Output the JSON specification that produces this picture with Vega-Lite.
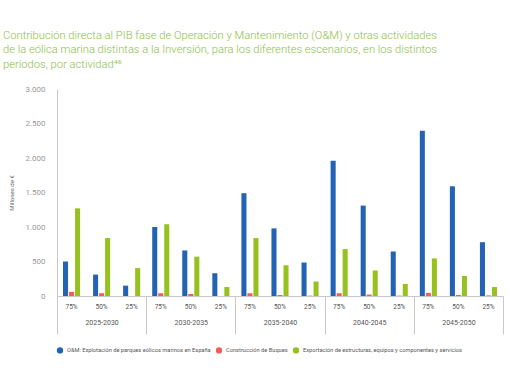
{
  "$schema": "https://vega.github.io/schema/vega-lite/v6.json",
  "width": 446,
  "height": 207,
  "autosize": {"type": "none"},
  "padding": {"left": 57, "top": 89, "right": 7, "bottom": 86},
  "background": "white",
  "title": {
    "text": [
      "Contribución directa al PIB fase de Operación y Mantenimiento (O&M) y otras actividades",
      "de la eólica marina distintas a la Inversión, para los diferentes escenarios, en los distintos",
      "periodos, por actividad⁴⁶"
    ],
    "anchor": "start",
    "frame": "group",
    "dx": -54,
    "offset": 15,
    "fontSize": 11.2,
    "lineHeight": 14.5,
    "font": "Roboto",
    "fontWeight": 300,
    "color": "#8dc03f"
  },
  "data": {
    "values": [
      {"period": "2025-2030", "scenario": "75%", "series": "O&M: Explotación de parques eólicos marinos en España", "value": 500},
      {"period": "2025-2030", "scenario": "75%", "series": "Construcción de Buques", "value": 60},
      {"period": "2025-2030", "scenario": "75%", "series": "Exportación de estructuras, equipos y componentes y servicios", "value": 1270},
      {"period": "2025-2030", "scenario": "50%", "series": "O&M: Explotación de parques eólicos marinos en España", "value": 310},
      {"period": "2025-2030", "scenario": "50%", "series": "Construcción de Buques", "value": 40},
      {"period": "2025-2030", "scenario": "50%", "series": "Exportación de estructuras, equipos y componentes y servicios", "value": 840},
      {"period": "2025-2030", "scenario": "25%", "series": "O&M: Explotación de parques eólicos marinos en España", "value": 150},
      {"period": "2025-2030", "scenario": "25%", "series": "Construcción de Buques", "value": 0},
      {"period": "2025-2030", "scenario": "25%", "series": "Exportación de estructuras, equipos y componentes y servicios", "value": 405},
      {"period": "2030-2035", "scenario": "75%", "series": "O&M: Explotación de parques eólicos marinos en España", "value": 1000},
      {"period": "2030-2035", "scenario": "75%", "series": "Construcción de Buques", "value": 40},
      {"period": "2030-2035", "scenario": "75%", "series": "Exportación de estructuras, equipos y componentes y servicios", "value": 1040},
      {"period": "2030-2035", "scenario": "50%", "series": "O&M: Explotación de parques eólicos marinos en España", "value": 660},
      {"period": "2030-2035", "scenario": "50%", "series": "Construcción de Buques", "value": 30},
      {"period": "2030-2035", "scenario": "50%", "series": "Exportación de estructuras, equipos y componentes y servicios", "value": 570},
      {"period": "2030-2035", "scenario": "25%", "series": "O&M: Explotación de parques eólicos marinos en España", "value": 330},
      {"period": "2030-2035", "scenario": "25%", "series": "Construcción de Buques", "value": 0},
      {"period": "2030-2035", "scenario": "25%", "series": "Exportación de estructuras, equipos y componentes y servicios", "value": 130},
      {"period": "2035-2040", "scenario": "75%", "series": "O&M: Explotación de parques eólicos marinos en España", "value": 1490},
      {"period": "2035-2040", "scenario": "75%", "series": "Construcción de Buques", "value": 40},
      {"period": "2035-2040", "scenario": "75%", "series": "Exportación de estructuras, equipos y componentes y servicios", "value": 840},
      {"period": "2035-2040", "scenario": "50%", "series": "O&M: Explotación de parques eólicos marinos en España", "value": 980},
      {"period": "2035-2040", "scenario": "50%", "series": "Construcción de Buques", "value": 15},
      {"period": "2035-2040", "scenario": "50%", "series": "Exportación de estructuras, equipos y componentes y servicios", "value": 445},
      {"period": "2035-2040", "scenario": "25%", "series": "O&M: Explotación de parques eólicos marinos en España", "value": 485},
      {"period": "2035-2040", "scenario": "25%", "series": "Construcción de Buques", "value": 5},
      {"period": "2035-2040", "scenario": "25%", "series": "Exportación de estructuras, equipos y componentes y servicios", "value": 210},
      {"period": "2040-2045", "scenario": "75%", "series": "O&M: Explotación de parques eólicos marinos en España", "value": 1960},
      {"period": "2040-2045", "scenario": "75%", "series": "Construcción de Buques", "value": 40},
      {"period": "2040-2045", "scenario": "75%", "series": "Exportación de estructuras, equipos y componentes y servicios", "value": 680},
      {"period": "2040-2045", "scenario": "50%", "series": "O&M: Explotación de parques eólicos marinos en España", "value": 1310},
      {"period": "2040-2045", "scenario": "50%", "series": "Construcción de Buques", "value": 20},
      {"period": "2040-2045", "scenario": "50%", "series": "Exportación de estructuras, equipos y componentes y servicios", "value": 370},
      {"period": "2040-2045", "scenario": "25%", "series": "O&M: Explotación de parques eólicos marinos en España", "value": 645},
      {"period": "2040-2045", "scenario": "25%", "series": "Construcción de Buques", "value": 5},
      {"period": "2040-2045", "scenario": "25%", "series": "Exportación de estructuras, equipos y componentes y servicios", "value": 175},
      {"period": "2045-2050", "scenario": "75%", "series": "O&M: Explotación de parques eólicos marinos en España", "value": 2395},
      {"period": "2045-2050", "scenario": "75%", "series": "Construcción de Buques", "value": 45},
      {"period": "2045-2050", "scenario": "75%", "series": "Exportación de estructuras, equipos y componentes y servicios", "value": 545},
      {"period": "2045-2050", "scenario": "50%", "series": "O&M: Explotación de parques eólicos marinos en España", "value": 1590},
      {"period": "2045-2050", "scenario": "50%", "series": "Construcción de Buques", "value": 15},
      {"period": "2045-2050", "scenario": "50%", "series": "Exportación de estructuras, equipos y componentes y servicios", "value": 290},
      {"period": "2045-2050", "scenario": "25%", "series": "O&M: Explotación de parques eólicos marinos en España", "value": 780},
      {"period": "2045-2050", "scenario": "25%", "series": "Construcción de Buques", "value": 8},
      {"period": "2045-2050", "scenario": "25%", "series": "Exportación de estructuras, equipos y componentes y servicios", "value": 130}
    ]
  },
  "transform": [
    {"calculate": "datum.scenario + '-' + (datum.series == 'Construcción de Buques' ? 'b' : (indexof(datum.series, 'O&M') == 0 ? 'a' : 'c'))", "as": "slot"}
  ],
  "encoding": {
    "x": {
      "field": "period",
      "type": "nominal",
      "sort": ["2025-2030", "2030-2035", "2035-2040", "2040-2045", "2045-2050"],
      "scale": {"paddingInner": 0, "paddingOuter": 0},
      "title": null,
      "axis": {
        "labelAngle": 0,
        "tickBand": "extent",
        "tickSize": 38,
        "tickColor": "#c8c8c8",
        "domainColor": "#c8c8c8",
        "labelPadding": -12,
        "labelBaseline": "middle",
        "labelFontSize": 7,
        "labelColor": "#555555",
        "labelFont": "Roboto"
      }
    },
    "xOffset": {
      "field": "slot",
      "type": "nominal",
      "scale": {
        "domain": ["s1", "75%-a", "75%-b", "75%-c", "s2", "s3", "50%-a", "50%-b", "50%-c", "s4", "s5", "25%-a", "25%-b", "25%-c", "s6"],
        "paddingInner": 0.16,
        "paddingOuter": 0
      }
    }
  },
  "resolve": {"axis": {"y": "independent"}},
  "layer": [
    {
      "mark": {"type": "bar"},
      "encoding": {
        "y": {
          "field": "value",
          "type": "quantitative",
          "scale": {"domain": [0, 3000]},
          "title": "Millones de €",
          "axis": {
            "values": [0, 500, 1000, 1500, 2000, 2500, 3000],
            "labelExpr": "replace(format(datum.value, ','), ',', '.')",
            "labelOverlap": false,
            "grid": false,
            "ticks": false,
            "domainColor": "#c8c8c8",
            "labelPadding": 12,
            "labelFontSize": 8,
            "labelColor": "#999999",
            "labelFont": "Roboto",
            "titleFontSize": 6,
            "titleFontWeight": "normal",
            "titleColor": "#666666",
            "titleFont": "Roboto",
            "titlePadding": 10
          }
        },
        "color": {
          "field": "series",
          "type": "nominal",
          "scale": {
            "domain": [
              "O&M: Explotación de parques eólicos marinos en España",
              "Construcción de Buques",
              "Exportación de estructuras, equipos y componentes y servicios"
            ],
            "range": ["#2363b3", "#ef5f58", "#96c11f"]
          },
          "legend": {
            "orient": "none",
            "legendX": -1,
            "legendY": 257,
            "direction": "horizontal",
            "title": null,
            "symbolType": "circle",
            "symbolSize": 40,
            "labelFontSize": 5.7,
            "labelColor": "#555555",
            "labelFont": "Roboto",
            "labelLimit": 400,
            "labelOffset": 3,
            "columnPadding": 4
          }
        }
      }
    },
    {
      "transform": [{"filter": "datum.series == 'Construcción de Buques'"}],
      "mark": {"type": "text", "dy": 11, "fontSize": 6.5, "color": "#555555", "baseline": "middle", "font": "Roboto"},
      "encoding": {
        "y": {"datum": 0, "axis": null},
        "text": {"field": "scenario"}
      }
    }
  ],
  "config": {
    "view": {"stroke": null},
    "font": "Roboto"
  }
}
